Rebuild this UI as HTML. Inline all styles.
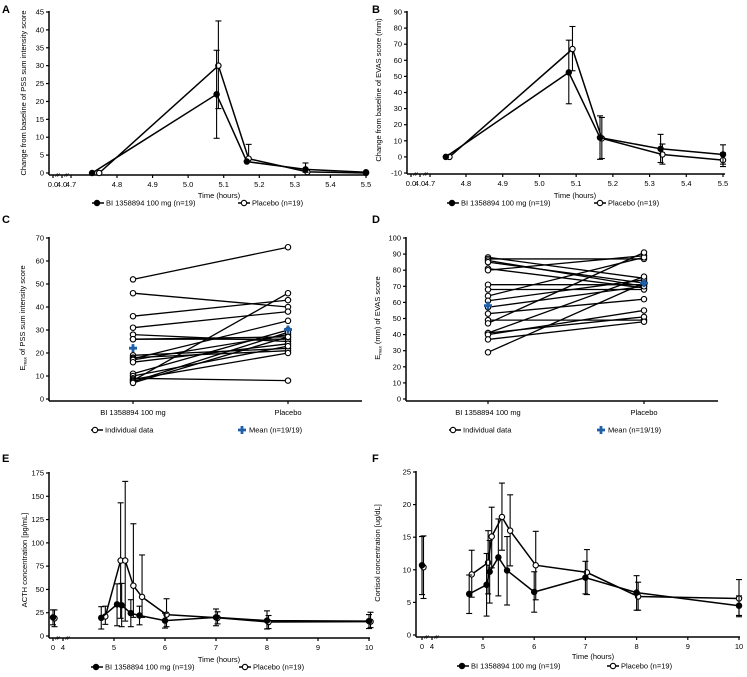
<!DOCTYPE html>
<html><head><meta charset="utf-8"><style>
html,body{margin:0;padding:0;background:#fff}
svg{display:block;font-family:"Liberation Sans",Arial,sans-serif}
</style></head><body>
<svg id="fig" width="747" height="677" viewBox="0 0 747 677" xmlns="http://www.w3.org/2000/svg"></svg>
<script>
// ---------- DATA ----------
const A_bi_t=[4.73,5.08,5.165,5.33,5.5];
const A_bi_v=[0,22,3.2,1,0.2];
const A_bi_lo=[0,9.7,3.2,0.2,0.2];
const A_bi_hi=[0,34.3,3.2,2.8,0.2];
const A_pl_t=[4.75,5.085,5.17,5.335,5.5];
const A_pl_v=[0,30,4,0.3,0];
const A_pl_lo=[0,18,4,0.3,0];
const A_pl_hi=[0,42.5,8,0.3,0];
const A_yticks=[0,5,10,15,20,25,30,35,40,45];
const A_xticks=[4.8,4.9,5.0,5.1,5.2,5.3,5.4,5.5];
const A_xlabels=["4.8","4.9","5.0","5.1","5.2","5.3","5.4","5.5"];
const B_bi_t=[4.745,5.08,5.165,5.33,5.5];
const B_bi_v=[0,52.5,12,5,1.5];
const B_bi_lo=[0,33,-1.5,-3.5,-4.5];
const B_bi_hi=[0,72.5,25.5,14,7.5];
const B_pl_t=[4.755,5.09,5.17,5.335,5.5];
const B_pl_v=[0,67,11.5,1.5,-2];
const B_pl_lo=[0,53.5,-1,-4.5,-6];
const B_pl_hi=[0,81,24.5,8,2.5];
const B_yticks=[-10,0,10,20,30,40,50,60,70,80,90];
const C_bi=[52,46,36,31,28,26,26,19,18,17.5,17,16,11,10,9,8.5,8,7.5,7];
const C_pl=[66,40,43,38,25,26,27,22,21,34,28,24,30,23,8,20,46,29,27];
const C_mean=[22.1,30.2];
const C_yticks=[0,10,20,30,40,50,60,70];
const C_cats=["BI 1358894 100 mg","Placebo"];
const D_bi=[88,87,86,85,81,80,71,68,64,61,57,53,49,47,41,41,40,37,29];
const D_pl=[75,87,70,72,69,89,71,68,88,74,70,62,49,91,51,76,55,48,72];
const D_mean=[58,72];
const D_yticks=[0,10,20,30,40,50,60,70,80,90,100];
const E_bi_t=[0,4.75,5.06,5.15,5.33,5.5,6,7,8,10];
const E_bi_v=[20,19.5,34,33,24.5,22,16.5,20,16.5,16];
const E_bi_lo=[12,7.5,11,10,10,12,8.5,11,7.5,8];
const E_bi_hi=[28,31.5,56,56.5,39,32,24.5,29,27,23];
const E_pl_t=[0.6,4.83,5.13,5.22,5.38,5.55,6.03,7.03,8.03,10.03];
const E_pl_v=[19,21,81,81,54,42,23,19.5,15,15.5];
const E_pl_lo=[10,12.5,19,16,20,20,10,13,8,9];
const E_pl_hi=[28,32,143,166,120.5,87,40,26,22,25.5];
const E_yticks=[0,25,50,75,100,125,150,175];
const E_xticks=[0,4,5,6,7,8,9,10];
const F_bi_t=[0,4.73,5.07,5.13,5.3,5.47,6,7,8,10];
const F_bi_v=[10.7,6.3,7.7,9.7,11.9,9.9,6.6,8.8,6.5,4.5];
const F_bi_lo=[6.2,3.3,2.9,4.9,6,4.6,3.5,6.3,3.8,3];
const F_bi_hi=[15.1,9.2,12.5,14.5,17.8,15.1,9.7,11.3,9.1,6];
const F_pl_t=[0.6,4.78,5.1,5.17,5.37,5.53,6.03,7.03,8.03,10];
const F_pl_v=[10.4,9.3,11.1,15.1,18.1,16,10.7,9.6,5.9,5.6];
const F_pl_lo=[5.6,5.8,6.3,10.3,13,10.6,5.4,6.2,3.8,2.8];
const F_pl_hi=[15.2,13,16,19.6,23.3,21.5,15.9,13.1,8.1,8.5];
const F_yticks=[0,5,10,15,20,25];

// ---------- HELPERS ----------
const NS="http://www.w3.org/2000/svg";
const svg=document.getElementById('fig');
function mk(tag,attrs,parent){const e=document.createElementNS(NS,tag);for(const k in attrs)e.setAttribute(k,attrs[k]);(parent||svg).appendChild(e);return e;}
function txt(x,y,s,size,anchor,name,extra){
  const e=mk('text',Object.assign({x:x,y:y,'font-size':size,'text-anchor':anchor||'start',fill:'#000'},extra||{}));
  e.textContent=s;
  
  
  return e;
}
function line(x1,y1,x2,y2,w,name){
  const e=mk('line',{x1:x1,y1:y1,x2:x2,y2:y2,stroke:'#000','stroke-width':w});
  
  
  return e;
}
function marker(x,y,filled,name){
  const e=mk('circle',{cx:x,cy:y,r:2.7,fill:filled?'#000':'#fff',stroke:'#000','stroke-width':1.1});
  
  
  return e;
}
function plus(x,y,name){
  const e=mk('path',{d:`M${x-1.4},${y-4}h2.8v2.6h2.6v2.8h-2.6v2.6h-2.8v-2.6h-2.6v-2.8h2.6z`,fill:'#1f5fa8'});
  
  
  return e;
}
function linScale(d0,d1,p0,p1){return v=>p0+(v-d0)*(p1-p0)/(d1-d0);}
function yAxis(ax,sy,ticks,yTop,yBot,id){
  line(ax,yTop-1,ax,yBot,1.5,id+'-y-axis');
  ticks.forEach(t=>{const y=sy(t);line(ax-3,y,ax,y,1.2,id+'-y-tick');txt(ax-5,y+2.5,String(t),7.5,'end',id+'-y-tick-label');});
}
function series(sx,sy,ts,vs,lo,hi,filled,id){
  let d='';let started=false;
  ts.forEach((t,i)=>{
    if(t<4.2){return;}
    d+=(started?'L':'M')+sx(t).toFixed(1)+','+sy(vs[i]).toFixed(1);started=true;
  });
  const p=mk('path',{d:d,fill:'none',stroke:'#000','stroke-width':1.5});
  
  
  ts.forEach((t,i)=>{
    const x=sx(t);
    if(hi[i]!==lo[i]){
      line(x,sy(lo[i]),x,sy(hi[i]),1.1,id+'-error-bar');
      line(x-3,sy(lo[i]),x+3,sy(lo[i]),1.1,id+'-error-cap');
      line(x-3,sy(hi[i]),x+3,sy(hi[i]),1.1,id+'-error-cap');
    }
  });
  ts.forEach((t,i)=>marker(sx(t),sy(vs[i]),filled,id+'-point'));
}
function legendPair(y,x1,x2,id,t1,t2){
  line(x1,y,x1+12,y,1.5,id+'-legend-bi-line');marker(x1+5,y,true,id+'-legend-bi-marker');
  txt(x1+14,y+2.6,t1,7.5,'start',id+'-legend-bi-label');
  line(x2,y,x2+12,y,1.5,id+'-legend-placebo-line');marker(x2+6,y,false,id+'-legend-placebo-marker');
  txt(x2+14,y+2.6,t2,7.5,'start',id+'-legend-placebo-label');
}
function ytitle(x,y,s,id){
  return txt(x,y,s,7.5,'middle',id+'-y-axis-title',{transform:`rotate(-90 ${x} ${y})`});
}
function ytitleEmax(x,y,rest,id){
  const e=mk('text',{x:x,y:y,'font-size':7.5,'text-anchor':'middle',fill:'#000',transform:`rotate(-90 ${x} ${y})`});
  
  
  const t1=mk('tspan',{},e);t1.textContent='E';
  const t2=mk('tspan',{'font-size':4.5,dy:1.5},e);t2.textContent='max';
  const t3=mk('tspan',{dy:-1.5},e);t3.textContent=rest;
  return e;
}
function breakMarks(xs,y,id){xs.forEach(x=>{line(x-1.5,y+1.5,x+0.5,y-1.5,0.8,id+'-axis-break');line(x+0.5,y+1.5,x+2.5,y-1.5,0.8,id+'-axis-break');});}

[['A',2,13],['B',372,13],['C',2,223],['D',372,223],['E',2,462],['F',372,462]].forEach(l=>txt(l[1],l[2],l[0],11,'start','panel-label-'+l[0].toLowerCase(),{'font-weight':'bold'}));

// ---------- PANEL A ----------
(function(){
  const ax=49, ay=175, sy=linScale(0,45,173,12), sx=linScale(4.8,5.5,117,366);
  yAxis(ax,sy,A_yticks,12,ay,'a');
  line(ax,ay,367,ay,1.5,'a-x-axis');
  [[53,'0.0'],[62,'4.0'],[71,'4.7']].forEach(b=>{line(b[0],ay,b[0],ay+3,1.2,'a-x-tick');txt(b[0],ay+12,b[1],7.5,'middle','a-x-tick-label');});
  breakMarks([57,66],ay,'a');
  A_xticks.forEach((t,i)=>{const x=sx(t);line(x,ay,x,ay+3,1.2,'a-x-tick');txt(x,ay+12,A_xlabels[i],7.5,'middle','a-x-tick-label');});
  txt(219,198,'Time (hours)',7.5,'middle','a-x-axis-title');
  ytitle(26,93,'Change from baseline of PSS sum intensity score','a');
  series(sx,sy,A_pl_t,A_pl_v,A_pl_lo,A_pl_hi,false,'a-placebo');
  series(sx,sy,A_bi_t,A_bi_v,A_bi_lo,A_bi_hi,true,'a-bi');
  legendPair(203,92,238,'a','BI 1358894 100 mg (n=19)','Placebo (n=19)');
})();

// ---------- PANEL B ----------
(function(){
  const ax=407, ay=174, sy=linScale(-10,90,173,12), sx=linScale(4.8,5.5,466,723);
  yAxis(ax,sy,B_yticks,12,ay,'b');
  line(ax,ay,725,ay,1.5,'b-x-axis');
  [[411,'0.0'],[420,'4.0'],[430,'4.7']].forEach(b=>{line(b[0],ay,b[0],ay+3,1.2,'b-x-tick');txt(b[0],ay+12,b[1],7.5,'middle','b-x-tick-label');});
  breakMarks([415,425],ay,'b');
  A_xticks.forEach((t,i)=>{const x=sx(t);line(x,ay,x,ay+3,1.2,'b-x-tick');txt(x,ay+12,A_xlabels[i],7.5,'middle','b-x-tick-label');});
  txt(575,198,'Time (hours)',7.5,'middle','b-x-axis-title');
  ytitle(381,90,'Change from baseline of EVAS score (mm)','b');
  series(sx,sy,B_pl_t,B_pl_v,B_pl_lo,B_pl_hi,false,'b-placebo');
  series(sx,sy,B_bi_t,B_bi_v,B_bi_lo,B_bi_hi,true,'b-bi');
  legendPair(203,447,594,'b','BI 1358894 100 mg (n=19)','Placebo (n=19)');
})();

// ---------- PAIRED PANELS ----------
function paired(id,ax,ay,xEnd,yTopPx,yMax,ticks,cx,bi,pl,mean,titleRest,tx,ty,legY,lx1,lx2){
  const sy=linScale(0,yMax,ay-2,yTopPx);
  yAxis(ax,sy,ticks,yTopPx,ay,id);
  line(ax,ay,xEnd,ay,1.5,id+'-x-axis');
  C_cats.forEach((c,i)=>{line(cx[i],ay,cx[i],ay+3,1.2,id+'-x-tick');txt(cx[i],ay+14,c,7.5,'middle',id+'-category-label');});
  bi.forEach((v,i)=>{line(cx[0],sy(v),cx[1],sy(pl[i]),1.3,id+'-subject-line');});
  bi.forEach((v,i)=>{marker(cx[0],sy(v),false,id+'-bi-point');marker(cx[1],sy(pl[i]),false,id+'-placebo-point');});
  plus(cx[0],sy(mean[0]),id+'-mean-bi');plus(cx[1],sy(mean[1]),id+'-mean-placebo');
  ytitleEmax(tx,ty,titleRest,id);
  line(lx1,legY,lx1+12,legY,1.5,id+'-legend-individual-line');marker(lx1+4,legY,false,id+'-legend-individual-marker');
  txt(lx1+14,legY+2.6,'Individual data',7.5,'start',id+'-legend-individual-label');
  plus(lx2,legY,id+'-legend-mean-marker');
  txt(lx2+7,legY+2.6,'Mean (n=19/19)',7.5,'start',id+'-legend-mean-label');
}
paired('c',49,401,362,238,70,C_yticks,[133,288],C_bi,C_pl,C_mean,' of PSS sum intensity score',25,318,430,91,242);
paired('d',406,401,718,238,100,D_yticks,[488,644],D_bi,D_pl,D_mean,' (mm) of EVAS score',380,318,430,449,601);

// ---------- TIME COURSE PANELS ----------
function brokenScale(z,four,five,pph){return t=>t<=4.2?(z+(t/4)*(four-z)):(five+(t-5)*pph);}
function timePanel(id,ax,ay,xEnd,sy,yticks,sx,bt,bv,bl,bh,pt,pv,pl,ph,title,tx,ty,ttx,tty,legY,lx1,lx2){
  yAxis(ax,sy,yticks,sy(yticks[yticks.length-1]),ay,id);
  line(ax,ay,xEnd,ay,1.5,id+'-x-axis');
  E_xticks.forEach(t=>{const x=sx(t);line(x,ay,x,ay+3,1.2,id+'-x-tick');txt(x,ay+12,String(t),7.5,'middle',id+'-x-tick-label');});
  breakMarks([sx(1.6),sx(4)+4],ay,id);
  txt(ttx,tty,'Time (hours)',7.5,'middle',id+'-x-axis-title');
  ytitle(tx,ty,title,id);
  series(sx,sy,pt,pv,pl,ph,false,id+'-placebo');
  series(sx,sy,bt,bv,bl,bh,true,id+'-bi');
  legendPair(legY,lx1,lx2,id,'BI 1358894 100 mg (n=19)','Placebo (n=19)');
}
timePanel('e',49,638,370,linScale(0,175,636,473),E_yticks,brokenScale(53,63,114,51),
  E_bi_t,E_bi_v,E_bi_lo,E_bi_hi,E_pl_t,E_pl_v,E_pl_lo,E_pl_hi,
  'ACTH concentration [pg/mL]',27,560,219,662,667,91,239);
timePanel('f',416,637,740,linScale(0,25,635,472),F_yticks,brokenScale(422,432,483,51.2),
  F_bi_t,F_bi_v,F_bi_lo,F_bi_hi,F_pl_t,F_pl_v,F_pl_lo,F_pl_hi,
  'Cortisol concentration [ug/dL]',380,553,593,659,666,457,607);
</script>
</body></html>
